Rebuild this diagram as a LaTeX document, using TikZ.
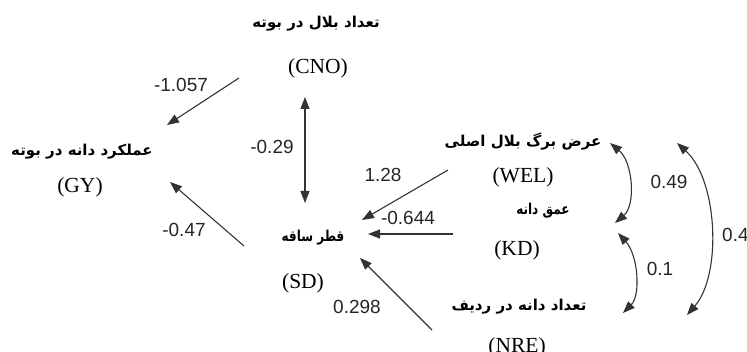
\documentclass[tikz,border=0pt]{standalone}
\usepackage{fontspec}
\setmainfont{Liberation Serif}
\newfontfamily\arabicfont[Script=Arabic]{DejaVu Sans}
\newfontfamily\numfont{Liberation Sans}
\TeXXeTstate=1
\usetikzlibrary{arrows.meta}

\begin{document}
\begin{tikzpicture}[x=1pt,y=-1pt,
  fa/.style={font=\arabicfont\bfseries\fontsize{15}{17}\selectfont, inner sep=0pt},
  code/.style={font=\fontsize{21.5}{23}\selectfont, inner sep=0pt},
  coef/.style={font=\numfont\fontsize{19}{21}\selectfont, text=black!85, inner sep=0pt},
  link/.style={draw=black!80, line width=1.1pt, -{Triangle[length=12pt,width=9pt]}},
  corr/.style={draw=black!80, line width=1.1pt, {Triangle[length=12pt,width=9pt]}-{Triangle[length=12pt,width=9pt]}}]
\useasboundingbox (0,0) rectangle (747,352);

% variables: Persian name above, abbreviation below
\node[fa]   (cno-fa) at (316,24)  {\beginR تعداد بلال در بوته\endR};
\node[code] (cno)    at (318,68)  {(CNO)};
\node[fa]   (gy-fa)  at (82,152)  {\beginR عملکرد دانه در بوته\endR};
\node[code] (gy)     at (80,187)  {(GY)};
\node[fa]   (sd-fa)  at (313,238) {\scalebox{0.8}[1]{\beginR قطر ساقه\endR}};
\node[code] (sd)     at (303,283) {(SD)};
\node[fa]   (wel-fa) at (523,142) {\beginR عرض برگ بلال اصلی\endR};
\node[code] (wel)    at (523,177) {(WEL)};
\node[fa]   (kd-fa)  at (543,211) {\scalebox{0.8}[1]{\beginR عمق دانه\endR}};
\node[code] (kd)     at (517,250) {(KD)};
\node[fa]   (nre-fa) at (519,307) {\beginR تعداد دانه در ردیف\endR};
\node[code] (nre)    at (517,347) {(NRE)};

% connector end points
\coordinate (cno-gy-s) at (239,78);
\coordinate (cno-gy-e) at (167,125);
\coordinate (cno-sd-s) at (305,97);
\coordinate (cno-sd-e) at (305,203);
\coordinate (sd-gy-s)  at (244,246);
\coordinate (sd-gy-e)  at (170,182);
\coordinate (wel-sd-s) at (448,170);
\coordinate (wel-sd-e) at (362,220);
\coordinate (kd-sd-s)  at (453,234);
\coordinate (kd-sd-e)  at (368,234);
\coordinate (nre-sd-s) at (432,330);
\coordinate (nre-sd-e) at (360,258);
\coordinate (wel-kd-s) at (610,143);
\coordinate (wel-kd-e) at (615,223);
\coordinate (kd-nre-s) at (618,233);
\coordinate (kd-nre-e) at (623,313);
\coordinate (wel-nre-s) at (677,143);
\coordinate (wel-nre-e) at (687,315);

% direct effects
\draw[link] (cno-gy-s) -- (cno-gy-e);
\draw[link] (sd-gy-s) -- (sd-gy-e);
\draw[link] (wel-sd-s) -- (wel-sd-e);
\draw[link] (kd-sd-s) -- (kd-sd-e);
\draw[link] (nre-sd-s) -- (nre-sd-e);

% correlations
\draw[corr] (cno-sd-s) -- (cno-sd-e);
\draw[corr] (wel-kd-s) .. controls (633,162) and (636,205) .. (wel-kd-e);
\draw[corr] (kd-nre-s) .. controls (638,255) and (641,295) .. (kd-nre-e);
\draw[corr] (wel-nre-s) .. controls (718,180) and (722,275) .. (wel-nre-e);

% coefficients
\node[coef] (c1) at (181,85)  {-1.057};
\node[coef] (c2) at (272,147) {-0.29};
\node[coef] (c3) at (184,230) {-0.47};
\node[coef] (c4) at (383,175) {1.28};
\node[coef] (c5) at (408,218) {-0.644};
\node[coef] (c6) at (357,307) {0.298};
\node[coef] (c7) at (669,182) {0.49};
\node[coef] (c8) at (660,269) {0.1};
\node[coef, anchor=west] (c9) at (722,235) {0.4};
\end{tikzpicture}
\end{document}
